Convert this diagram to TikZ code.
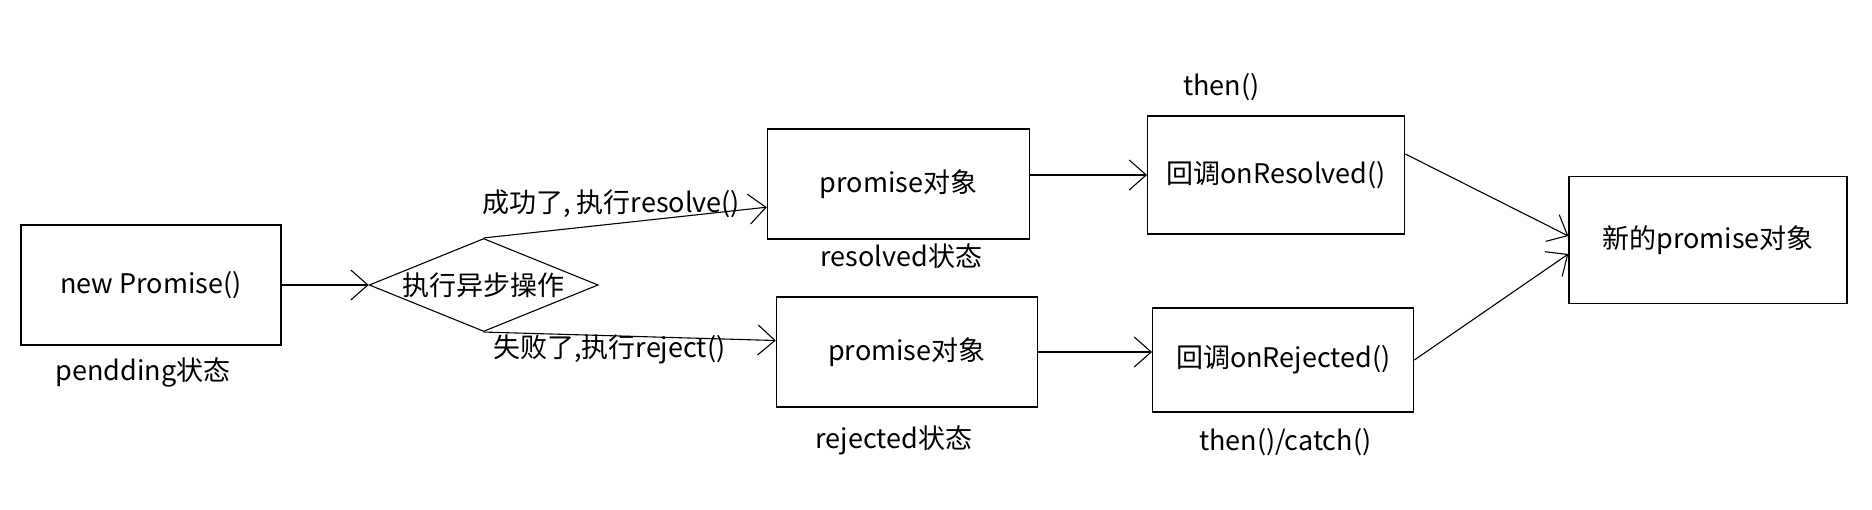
\documentclass[tikz,border=0pt]{standalone}
\usepackage{fontspec}
\setmainfont{Noto Sans CJK SC}
\usepackage{tikz}
\usetikzlibrary{positioning,shapes.geometric,arrows.meta}

\begin{document}
\begin{tikzpicture}[x=1pt, y=1pt,
  box/.style={draw, rectangle, line width=1.3pt, font=\fontsize{27}{32}\selectfont},
  decision/.style={draw, diamond, aspect=2.46, inner sep=0pt, line width=1.1pt,
    minimum width=229pt, minimum height=93pt, font=\fontsize{27}{32}\selectfont},
  lbl/.style={inner sep=2pt, font=\fontsize{27}{32}\selectfont},
  arr/.style={line width=1.1pt, -{Straight Barb[length=17pt, width=30pt]}}]
\useasboundingbox (0,0) rectangle (1872,509);
% Nodes
\node[box, minimum width=260pt, minimum height=120pt] (start) at (151,224) {new Promise()};
\node[lbl, below=10pt of start, xshift=-8pt] (pending) {pendding状态};
\node[decision, right=87pt of start] (async) {执行异步操作};
\node[box, minimum width=262pt, minimum height=110pt, right=168pt of async, yshift=101pt] (res) {promise对象};
\node[lbl, below=2pt of res, xshift=3pt] (resstate) {resolved状态};
\node[box, minimum width=261pt, minimum height=110pt, right=177pt of async, yshift=-67pt] (rej) {promise对象};
\node[lbl, below=16pt of rej, xshift=-13pt] (rejstate) {rejected状态};
\node[box, minimum width=257pt, minimum height=118pt, right=117pt of res, yshift=9pt] (cbres) {回调onResolved()};
\node[lbl, above=12pt of cbres, xshift=-55pt] (then) {then()};
\node[box, minimum width=261pt, minimum height=104pt, right=114pt of rej, yshift=-8pt] (cbrej) {回调onRejected()};
\node[lbl, below=14pt of cbrej, xshift=2pt] (catch) {then()/catch()};
\node[box, minimum width=278pt, minimum height=127pt, right=163pt of cbres, yshift=-65pt] (newp) {新的promise对象};

% Arrows
\draw[arr] (start.east) -- (async.west);
\draw[arr] (async.north) -- node[lbl, pos=0.45, above=4pt] {成功了, 执行resolve()} (res.190);
\draw[arr] (async.south) -- node[lbl, pos=0.43, below=-3pt] {失败了,执行reject()} (rej.175);
\draw[arr] (res.east |- cbres.west) -- (cbres.west);
\draw[arr] (rej.east) -- (rej.east -| cbrej.west);
\draw[arr] ([yshift=21pt]cbres.east) -- ([yshift=4pt]newp.west);
\draw[arr] (cbrej.east) -- ([yshift=-14pt]newp.west);
\end{tikzpicture}
\end{document}
